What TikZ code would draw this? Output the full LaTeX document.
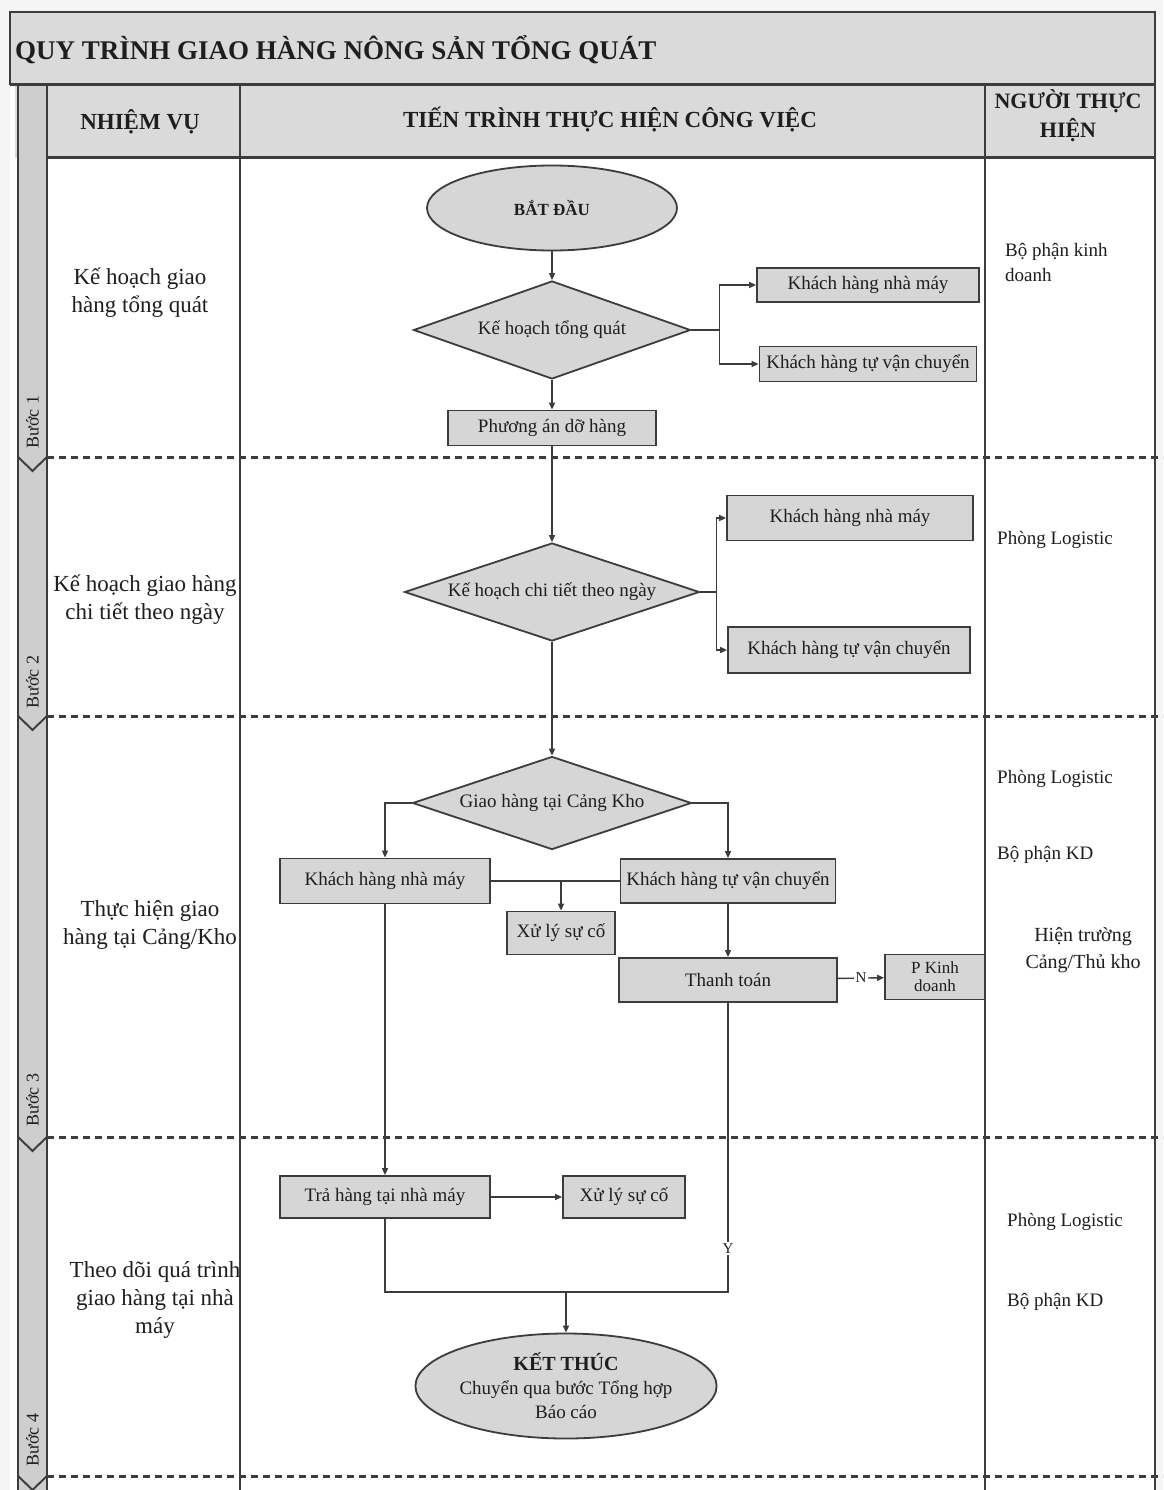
\documentclass[tikz,border=0pt]{standalone}
\usepackage{fontspec}
\setmainfont{Liberation Serif}
\usetikzlibrary{shapes.geometric,arrows.meta}
\definecolor{boxgray}{RGB}{214,214,214}
\definecolor{headgray}{RGB}{218,218,218}
\definecolor{stripgray}{RGB}{206,206,206}
\definecolor{linec}{RGB}{60,60,60}
\definecolor{textc}{RGB}{30,30,30}
\newcommand\myfsTitle{\fontsize{27}{30}\selectfont\bfseries}
\newcommand\myfsHead{\fontsize{23}{26}\selectfont\bfseries}
\newcommand\myfsBox{\fontsize{19}{21}\selectfont}
\newcommand\myfsLeft{\fontsize{23}{28}\selectfont}
\newcommand\myfsRight{\fontsize{19}{25}\selectfont}
\newcommand\myfsStep{\fontsize{18}{20}\selectfont}
\tikzset{
  pbox/.style 2 args={draw=linec, line width=1.8, fill=boxgray, text=textc,
    minimum width=#1, minimum height=#2, inner sep=0, font=\myfsBox},
  pdia/.style n args={3}{draw=linec, line width=1.8, fill=boxgray, text=textc,
    shape=diamond, aspect=#3, minimum width=#1, minimum height=#2, inner sep=0, font=\myfsBox},
  pell/.style 2 args={draw=linec, line width=1.8, fill=boxgray, text=textc,
    shape=ellipse, minimum width=#1, minimum height=#2, inner sep=0, font=\myfsBox, align=center},
  conn/.style={draw=linec, line width=1.4},
  arr/.style={conn, -{Triangle[length=7pt,width=6pt]}},
  frameline/.style={draw=linec, line width=2.2},
  sepdash/.style={draw=linec, line width=3, dash pattern=on 7pt off 5pt},
  lefttxt/.style={align=center, font=\myfsLeft, text=textc, inner sep=0},
  righttxt/.style={align=left, font=\myfsRight, text=textc, inner sep=0},
  steptxt/.style={rotate=90, font=\myfsStep, text=textc, inner sep=0},
  lab/.style={fill=white, inner sep=1.5, font=\fontsize{15}{17}\selectfont, text=textc},
  stripseg/.style={draw=linec, line width=1.8, fill=stripgray}
}
\begin{document}
\begin{tikzpicture}[x=1pt,y=-1pt]
\useasboundingbox (0,0) rectangle (1163,1490);
\clip (0,0) rectangle (1163,1490);
\fill[white!96!black] (0,0) rectangle (1163,1490);
\fill[white] (10,12) rectangle (1155,1490);
% title band and header row
\fill[headgray] (10,12) rectangle (1155,85);
\fill[headgray] (15,85) rectangle (1155,158);
\node[anchor=west, font=\myfsTitle, text=textc, inner sep=0] (title) at (15,50) {QUY TRÌNH GIAO HÀNG NÔNG SẢN TỔNG QUÁT};
\node[font=\myfsHead, text=textc] (hnv) at (140,122) {NHIỆM VỤ};
\node[font=\myfsHead, text=textc] (htt) at (610,120) {TIẾN TRÌNH THỰC HIỆN CÔNG VIỆC};
\node[font=\fontsize{22}{29}\selectfont\bfseries, text=textc, align=center] (hnt) at (1068,116) {NGƯỜI THỰC\\HIỆN};
% frame lines
\draw[frameline] (10,85) -- (10,12) -- (1155,12) -- (1155,1490);
\draw[frameline, line width=3] (10,85) -- (1155,85);
\draw[frameline, line width=3] (47,158) -- (1155,158);
\draw[frameline] (240,85) -- (240,1490);
\draw[frameline] (985,85) -- (985,1490);
% step strip
\draw[stripseg] (18,85) -- (47,85) -- (47,457) -- (32.5,471) -- (18,457) -- cycle;
\draw[stripseg] (18,457) -- (32.5,471) -- (47,457) -- (47,716) -- (32.5,730) -- (18,716) -- cycle;
\draw[stripseg] (18,716) -- (32.5,730) -- (47,716) -- (47,1137) -- (32.5,1151) -- (18,1137) -- cycle;
\draw[stripseg] (18,1137) -- (32.5,1151) -- (47,1137) -- (47,1476) -- (32.5,1490) -- (18,1476) -- cycle;
\draw[stripseg] (18,1476) -- (32.5,1490) -- (47,1476) -- (47,1500) -- (18,1500) -- cycle;
\node[steptxt] (s1) at (32.5,422) {Bước 1};
\node[steptxt] (s2) at (32.5,682) {Bước 2};
\node[steptxt] (s3) at (32.5,1100) {Bước 3};
\node[steptxt] (s4) at (32.5,1440) {Bước 4};
% dashed separators
\draw[sepdash] (47,457) -- (1163,457);
\draw[sepdash] (47,716) -- (1163,716);
\draw[sepdash] (47,1137) -- (1163,1137);
\draw[sepdash] (47,1476) -- (1163,1476);
% left column
\node[lefttxt] (t1) at (140,293) {Kế hoạch giao\\hàng tổng quát};
\node[lefttxt] (t2) at (145,600) {Kế hoạch giao hàng\\chi tiết theo ngày};
\node[lefttxt] (t3) at (150,925) {Thực hiện giao\\hàng tại Cảng/Kho};
\node[lefttxt] (t4) at (155,1300) {Theo dõi quá trình\\giao hàng tại nhà\\máy};
% right column
\node[righttxt, anchor=west] (r1) at (1005,262) {Bộ phận kinh\\doanh};
\node[righttxt, anchor=west] (r2) at (997,540) {Phòng Logistic};
\node[righttxt, anchor=west] (r3) at (997,779) {Phòng Logistic};
\node[righttxt, anchor=west] (r4) at (997,855) {Bộ phận KD};
\node[righttxt, align=center, font=\fontsize{20}{27}\selectfont] (r5) at (1083,950) {Hiện trường\\Cảng/Thủ kho};
\node[righttxt, anchor=west] (r6) at (1007,1222) {Phòng Logistic};
\node[righttxt, anchor=west] (r7) at (1007,1302) {Bộ phận KD};
% flowchart nodes
\node[pell={250}{85}, font=\fontsize{17}{19}\selectfont\bfseries] (start) at (552,208) {BẮT ĐẦU};
\node[pdia={277}{98}{2.83}] (d1) at (552,330) {Kế hoạch tổng quát};
\node[pbox={222}{34}] (kh1nm) at (868,285) {Khách hàng nhà máy};
\node[pbox={217}{35}] (kh1tv) at (868,364) {Khách hàng tự vận chuyển};
\node[pbox={208}{35}] (pa) at (552,428) {Phương án dỡ hàng};
\node[pdia={295}{98}{3}] (d2) at (552,592) {Kế hoạch chi tiết theo ngày};
\node[pbox={246}{45}] (kh2nm) at (850,518) {Khách hàng nhà máy};
\node[pbox={242}{46}] (kh2tv) at (849,650) {Khách hàng tự vận chuyển};
\node[pdia={279}{93}{3}] (d3) at (552,803) {Giao hàng tại Cảng Kho};
\node[pbox={210}{45}] (kh3nm) at (385,881) {Khách hàng nhà máy};
\node[pbox={215}{44}] (kh3tv) at (728,881) {Khách hàng tự vận chuyển};
\node[pbox={108}{43}] (xl1) at (561,933) {Xử lý sự cố};
\node[pbox={218}{44}] (tt) at (728,980) {Thanh toán};
\node[pbox={100}{45}, align=center, font=\fontsize{17}{18}\selectfont] (pkd) at (935,977) {P Kinh\\doanh};
\node[pbox={210}{42}] (trh) at (385,1197) {Trả hàng tại nhà máy};
\node[pbox={122}{42}] (xl2) at (624,1197) {Xử lý sự cố};
\node[pell={292}{105}, font=\fontsize{19}{24}\selectfont] (kt) at (566,1386) {{\fontsize{20}{24}\selectfont\bfseries KẾT THÚC}\\Chuyển qua bước Tổng hợp\\Báo cáo};
\coordinate (mj) at (566,1292);
% connectors
\draw[arr] (start) -- (d1);
\draw[arr] (d1.east) -- ++(28,0) |- (kh1nm.west);
\draw[arr] (d1.east) -- ++(28,0) |- (kh1tv.west);
\draw[arr] (d1) -- (pa);
\draw[arr] (pa) -- (d2);
\draw[arr] (d2.east) -- ++(16,0) |- (kh2nm.west);
\draw[arr] (d2.east) -- ++(16,0) |- (kh2tv.west);
\draw[arr] (d2) -- (d3);
\draw[arr] (d3.west) -| (kh3nm.north);
\draw[arr] (d3.east) -| (kh3tv.north);
\draw[conn] (kh3nm.east) -- (kh3tv.west);
\draw[arr] (xl1.north |- kh3nm.east) -- (xl1.north);
\draw[arr] (kh3tv) -- (tt);
\draw[arr] (tt) -- node[lab] {N} (pkd);
\draw[arr] (kh3nm) -- (trh);
\draw[arr] (trh) -- (xl2);
\draw[conn] (trh.south) |- (mj);
\draw[conn] (tt.south) -- node[lab, pos=0.85] {Y} (tt.south |- mj) -- (mj);
\draw[arr] (mj) -- (kt);
\end{tikzpicture}
\end{document}
